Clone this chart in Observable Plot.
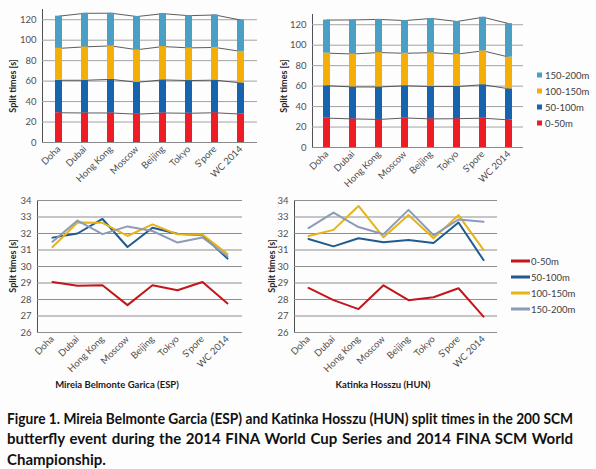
<!DOCTYPE html>
<html><head><meta charset="utf-8">
<script src="https://cdn.jsdelivr.net/npm/d3@7"></script>
<script src="https://cdn.jsdelivr.net/npm/@observablehq/plot@0.6"></script>
<style>
body{margin:0;background:#fff;}
#root{position:relative;width:596px;height:469px;background:#fdfdfd;overflow:hidden;font-family:Lato,"Open Sans",sans-serif;color:#404040;}
.panel{position:absolute;}
.panel svg{overflow:visible;}
.ylab{position:absolute;font-weight:bold;font-size:9px;transform:translate(-50%,-50%) rotate(-90deg);white-space:nowrap;color:#262626;}
.title{position:absolute;font-weight:bold;font-size:9.5px;transform:translate(-50%,-50%);white-space:nowrap;color:#1a1a1a;}
.leg{position:absolute;font-size:9.5px;white-space:nowrap;color:#404040;transform:translateY(-50%);display:flex;align-items:center;}
.sw{display:inline-block;width:5px;height:5px;margin-right:3px;}
.ln{display:inline-block;width:19px;height:2.2px;margin-right:1px;}
.cap{position:absolute;left:7px;font-weight:bold;font-size:15px;white-space:nowrap;color:#111;transform-origin:0 0;line-height:1;}
</style></head><body><div id="root"></div>
<script>
const venues = ["Doha","Dubai","Hong Kong","Moscow","Beijing","Tokyo","S'pore","WC 2014"];
const splits = ["0-50m","50-100m","100-150m","150-200m"];
// Mireia Belmonte Garcia (ESP)
const esp0_50    = [29.06, 28.84, 28.86, 27.66, 28.86, 28.56, 29.06, 27.76];
const esp50_100  = [31.75, 32.00, 32.88, 31.18, 32.35, 31.98, 31.90, 30.48];
const esp100_150 = [31.18, 32.66, 32.65, 31.85, 32.55, 31.95, 31.93, 30.76];
const esp150_200 = [31.50, 32.78, 31.96, 32.43, 32.15, 31.45, 31.76, 30.62];
// Katinka Hosszu (HUN)
const hun0_50    = [28.70, 27.96, 27.42, 28.86, 27.96, 28.14, 28.68, 26.96];
const hun50_100  = [31.67, 31.22, 31.71, 31.47, 31.61, 31.43, 32.67, 30.39];
const hun100_150 = [31.85, 32.22, 33.67, 31.77, 33.12, 31.71, 33.11, 31.01];
const hun150_200 = [32.33, 33.27, 32.39, 31.95, 33.43, 31.89, 32.85, 32.71];

const barColors  = ["#ee1c24","#1763ad","#f4ae07","#4b9fc4"];
const lineColors = ["#c3161c","#1f5b8f","#e7b416","#8d9cb6"];
const barTicks  = [0,20,40,60,80,100,120];
const lineTicks = [26,27,28,29,30,31,32,33,34];
const yLabel = "Split times [s]";
const captionLines = [
  "Figure 1. Mireia Belmonte Garcia (ESP) and Katinka Hosszu (HUN) split times in the 200 SCM",
  "butterfly event during the 2014 FINA World Cup Series and 2014 FINA SCM World",
  "Championship."
];

const root = document.getElementById("root");
function rows(arrs){
  const out=[];
  arrs.forEach((a,j)=>a.forEach((t,i)=>out.push({venue:venues[i],split:splits[j],time:t})));
  return out;
}
const baseStyle = {fontFamily:"Lato, 'Open Sans', sans-serif", fontSize:"9.5px", color:"#505050", background:"transparent", overflow:"visible"};

function barChart(arrs, o){
  const data = rows(arrs);
  const levels = [];
  venues.forEach((v,i)=>{let c=0; arrs.forEach((a,j)=>{c+=a[i]; levels.push({venue:v,level:j,top:c});});});
  return Plot.plot({
    width:o.width, height:o.height, marginLeft:o.ml, marginRight:o.mr, marginTop:o.mt, marginBottom:o.mb,
    style:baseStyle,
    x:{domain:venues, paddingInner:0.73, paddingOuter:0.365, tickRotate:-45, tickSize:0, tickPadding:5, label:null},
    y:{domain:[0,130], ticks:barTicks, tickSize:0, tickPadding:6, label:null, line:true},
    color:{domain:splits, range:barColors},
    marks:[
      Plot.ruleY(barTicks.slice(1), {stroke:"#a3a3a3", strokeWidth:1}),
      Plot.line(levels, {x:"venue", y:"top", z:"level", stroke:"#333", strokeWidth:0.8}),
      Plot.barY(data, {x:"venue", y:"time", fill:"split"}),
      Plot.ruleY([0], {stroke:"#8a8a8a", strokeWidth:1})
    ]
  });
}
function lineChart(arrs, o){
  const data = rows(arrs);
  return Plot.plot({
    width:o.width, height:o.height, marginLeft:o.ml, marginRight:o.mr, marginTop:o.mt, marginBottom:o.mb,
    style:baseStyle,
    x:{type:"point", domain:venues, padding:0.5, tickRotate:-45, tickSize:0, tickPadding:5, label:null},
    y:{domain:[26,34], ticks:lineTicks, tickSize:0, tickPadding:6, label:null, line:true},
    color:{domain:splits, range:lineColors},
    marks:[
      Plot.ruleY(lineTicks, {stroke:"#8f8f8f", strokeWidth:1}),
      Plot.line(data, {x:"venue", y:"time", z:"split", stroke:"split", strokeWidth:2})
    ]
  });
}
function place(el, left, top){
  const d=document.createElement("div"); d.className="panel"; d.style.left=left+"px"; d.style.top=top+"px";
  d.appendChild(el); root.appendChild(d);
}
place(barChart([esp0_50,esp50_100,esp100_150,esp150_200], {width:290,height:200,ml:42,mr:33,mt:9,mb:58}), 0, 0);
place(barChart([hun0_50,hun50_100,hun100_150,hun150_200], {width:260,height:200,ml:32,mr:17,mt:14,mb:53}), 280, 0);
place(lineChart([esp0_50,esp50_100,esp100_150,esp150_200], {width:260,height:210,ml:37,mr:18,mt:10,mb:68}), 0, 190);
place(lineChart([hun0_50,hun50_100,hun100_150,hun150_200], {width:240,height:210,ml:24,mr:13,mt:10,mb:68}), 270, 190);

function addDiv(cls, text, x, y){
  const d=document.createElement("div"); d.className=cls; d.textContent=text;
  d.style.left=x+"px"; d.style.top=y+"px"; root.appendChild(d); return d;
}
addDiv("ylab", yLabel, 12, 86);
addDiv("ylab", yLabel, 283, 86);
addDiv("ylab", yLabel, 12, 266);
addDiv("ylab", yLabel, 271, 266);
addDiv("title", "Mireia Belmonte Garica (ESP)", 117, 384);
addDiv("title", "Katinka Hosszu (HUN)", 383, 384);

[3,2,1,0].forEach((j,k)=>{
  const d=document.createElement("div"); d.className="leg";
  d.style.left="537px"; d.style.top=(75+k*16)+"px";
  d.innerHTML=`<span class="sw" style="background:${barColors[j]}"></span>${splits[j]}`;
  root.appendChild(d);
});
[0,1,2,3].forEach((j,k)=>{
  const d=document.createElement("div"); d.className="leg";
  d.style.left="511px"; d.style.top=(261+k*16)+"px";
  d.innerHTML=`<span class="ln" style="background:${lineColors[j]}"></span>${splits[j]}`;
  root.appendChild(d);
});

const capWidth = 566;
captionLines.forEach((t,i)=>{
  const d=document.createElement("div"); d.className="cap"; d.textContent=t;
  d.style.top=(410.5+i*20.5)+"px";
  root.appendChild(d);
  const w=d.getBoundingClientRect().width;
  let sx=1;
  if (w>capWidth) { sx=capWidth/w; d.style.transform=`scaleX(${sx})`; }
  if (i<2){
    const nw=w*sx; const spaces=(t.match(/ /g)||[]).length;
    if (nw<capWidth && spaces) d.style.wordSpacing=((capWidth-nw)/spaces/sx)+"px";
  }
});
</script></body></html>
